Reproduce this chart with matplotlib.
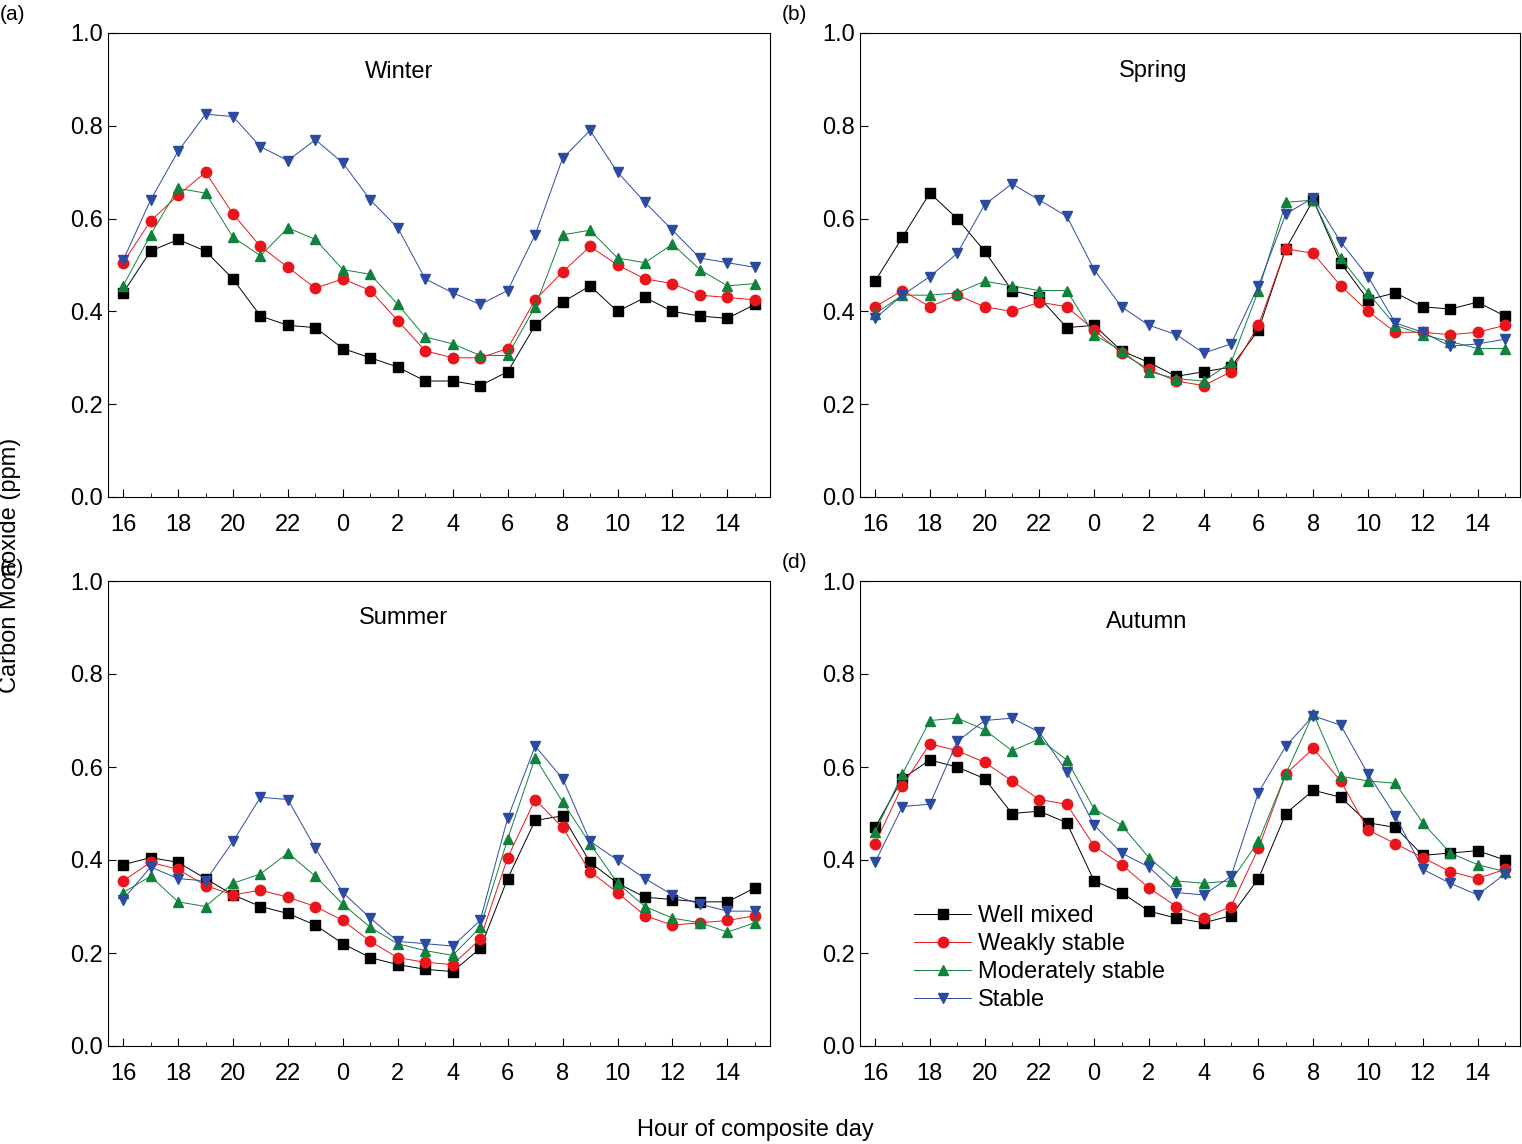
import numpy as np
import matplotlib.pyplot as plt

plt.rcParams['font.family'] = ['Liberation Sans', 'DejaVu Sans']

hours = [16, 17, 18, 19, 20, 21, 22, 23, 0, 1, 2, 3, 4, 5, 6, 7, 8, 9, 10, 11, 12, 13, 14, 15]
series_names = ['Well mixed', 'Weakly stable', 'Moderately stable', 'Stable']

winter = [
    [0.44, 0.53, 0.555, 0.53, 0.47, 0.39, 0.37, 0.365, 0.32, 0.30, 0.28, 0.25, 0.25, 0.24, 0.27, 0.37, 0.42, 0.455, 0.40, 0.43, 0.40, 0.39, 0.385, 0.415],
    [0.505, 0.595, 0.65, 0.70, 0.61, 0.54, 0.495, 0.45, 0.47, 0.445, 0.38, 0.315, 0.30, 0.30, 0.32, 0.425, 0.485, 0.54, 0.50, 0.47, 0.46, 0.435, 0.43, 0.425],
    [0.455, 0.565, 0.665, 0.655, 0.56, 0.52, 0.58, 0.555, 0.49, 0.48, 0.415, 0.345, 0.33, 0.305, 0.305, 0.41, 0.565, 0.575, 0.515, 0.505, 0.545, 0.49, 0.455, 0.46],
    [0.51, 0.64, 0.745, 0.825, 0.82, 0.755, 0.725, 0.77, 0.72, 0.64, 0.58, 0.47, 0.44, 0.415, 0.445, 0.565, 0.73, 0.79, 0.70, 0.635, 0.575, 0.515, 0.505, 0.495],
]
spring = [
    [0.465, 0.56, 0.655, 0.60, 0.53, 0.445, 0.43, 0.365, 0.37, 0.315, 0.29, 0.26, 0.27, 0.28, 0.36, 0.535, 0.64, 0.505, 0.425, 0.44, 0.41, 0.405, 0.42, 0.39],
    [0.41, 0.445, 0.41, 0.435, 0.41, 0.40, 0.42, 0.41, 0.36, 0.31, 0.275, 0.25, 0.24, 0.27, 0.37, 0.535, 0.525, 0.455, 0.40, 0.355, 0.355, 0.35, 0.355, 0.37],
    [0.395, 0.435, 0.435, 0.44, 0.465, 0.455, 0.445, 0.445, 0.35, 0.315, 0.27, 0.255, 0.25, 0.29, 0.445, 0.635, 0.64, 0.515, 0.44, 0.37, 0.35, 0.335, 0.32, 0.32],
    [0.385, 0.435, 0.475, 0.525, 0.63, 0.675, 0.64, 0.605, 0.49, 0.41, 0.37, 0.35, 0.31, 0.33, 0.455, 0.61, 0.645, 0.55, 0.475, 0.375, 0.355, 0.325, 0.33, 0.34],
]
summer = [
    [0.39, 0.405, 0.395, 0.36, 0.325, 0.30, 0.285, 0.26, 0.22, 0.19, 0.175, 0.165, 0.16, 0.21, 0.36, 0.485, 0.495, 0.395, 0.35, 0.32, 0.315, 0.31, 0.31, 0.34],
    [0.355, 0.395, 0.38, 0.345, 0.325, 0.335, 0.32, 0.30, 0.27, 0.225, 0.19, 0.18, 0.175, 0.23, 0.405, 0.53, 0.47, 0.375, 0.33, 0.28, 0.26, 0.265, 0.27, 0.28],
    [0.33, 0.365, 0.31, 0.30, 0.35, 0.37, 0.415, 0.365, 0.305, 0.255, 0.22, 0.205, 0.195, 0.255, 0.445, 0.62, 0.525, 0.435, 0.35, 0.30, 0.275, 0.265, 0.245, 0.265],
    [0.315, 0.385, 0.36, 0.355, 0.44, 0.535, 0.53, 0.425, 0.33, 0.275, 0.225, 0.22, 0.215, 0.27, 0.49, 0.645, 0.575, 0.44, 0.40, 0.36, 0.325, 0.305, 0.29, 0.29],
]
autumn = [
    [0.47, 0.575, 0.615, 0.60, 0.575, 0.50, 0.505, 0.48, 0.355, 0.33, 0.29, 0.275, 0.265, 0.28, 0.36, 0.50, 0.55, 0.535, 0.48, 0.47, 0.41, 0.415, 0.42, 0.40],
    [0.435, 0.56, 0.65, 0.635, 0.61, 0.57, 0.53, 0.52, 0.43, 0.39, 0.34, 0.30, 0.275, 0.30, 0.425, 0.585, 0.64, 0.57, 0.465, 0.435, 0.405, 0.375, 0.36, 0.38],
    [0.46, 0.585, 0.70, 0.705, 0.68, 0.635, 0.66, 0.615, 0.51, 0.475, 0.405, 0.355, 0.35, 0.355, 0.44, 0.585, 0.715, 0.58, 0.57, 0.565, 0.48, 0.415, 0.39, 0.375],
    [0.395, 0.515, 0.52, 0.655, 0.70, 0.705, 0.675, 0.59, 0.475, 0.415, 0.385, 0.33, 0.325, 0.365, 0.545, 0.645, 0.71, 0.69, 0.585, 0.495, 0.38, 0.35, 0.325, 0.37],
]

colors = ['#000000', '#e8161b', '#11823b', '#2b4ba0']
markers = ['s', 'o', '^', 'v']

# tag, title, data, axes box in pixels, title x/y (axes fraction), tag position in pixels
panels = [
    ('(a)', 'Winter', winter, [108, 770, 33, 497], 0.44, 0.916, (0, 15)),
    ('(b)', 'Spring', spring, [860, 1520, 33, 497], 0.444, 0.918, (782, 15)),
    ('(c)', 'Summer', summer, [108, 770, 581, 1046], 0.446, 0.92, (0, 568)),
    ('(d)', 'Autumn', autumn, [860, 1520, 581, 1046], 0.435, 0.912, (782, 562)),
]

W, H = 1522, 1144
fig = plt.figure(figsize=(W / 100, H / 100), dpi=100)
x = np.arange(len(hours))

for tag, title, data, (l, r, t, b), tx, ty, (px, py) in panels:
    ax = fig.add_axes([l / W, 1 - b / H, (r - l) / W, (b - t) / H])
    for i, vals in enumerate(data):
        ax.plot(x, vals, color=colors[i], lw=0.7, marker=markers[i], ms=7.5,
                mec=colors[i], label=series_names[i])
    ax.set_xlim(-0.55, len(hours) - 0.45)
    ax.set_ylim(0, 1.0)
    ax.set_xticks(x[::2])
    ax.set_xticklabels([str(h) for h in hours[::2]])
    ax.set_xticks(x, minor=True)
    ax.set_yticks(np.arange(0, 1.01, 0.2))
    ax.set_yticklabels([f'{v:.1f}' for v in np.arange(0, 1.01, 0.2)])
    ax.tick_params(direction='in', labelsize=17, length=6, top=False, right=False)
    ax.tick_params(axis='x', pad=12)
    ax.tick_params(which='minor', direction='in', length=3)
    ax.text(tx, ty, title, transform=ax.transAxes, ha='center', va='center', fontsize=17)
    fig.text(px / W, 1 - py / H, tag, fontsize=15, va='center')
    if title == 'Autumn':
        ax.legend(loc='lower left', bbox_to_anchor=(0.05, 0.03), frameon=False,
                  fontsize=17, handlelength=2.4, handletextpad=0.3, labelspacing=0.25)

fig.text(10 / W, 1 - 565 / H, 'Carbon Monoxide (ppm)', rotation=90, fontsize=17, ha='center', va='center')
fig.text(755 / W, 1 - 1130 / H, 'Hour of composite day', fontsize=17, ha='center', va='center')

fig.savefig('out.png', dpi=100)
